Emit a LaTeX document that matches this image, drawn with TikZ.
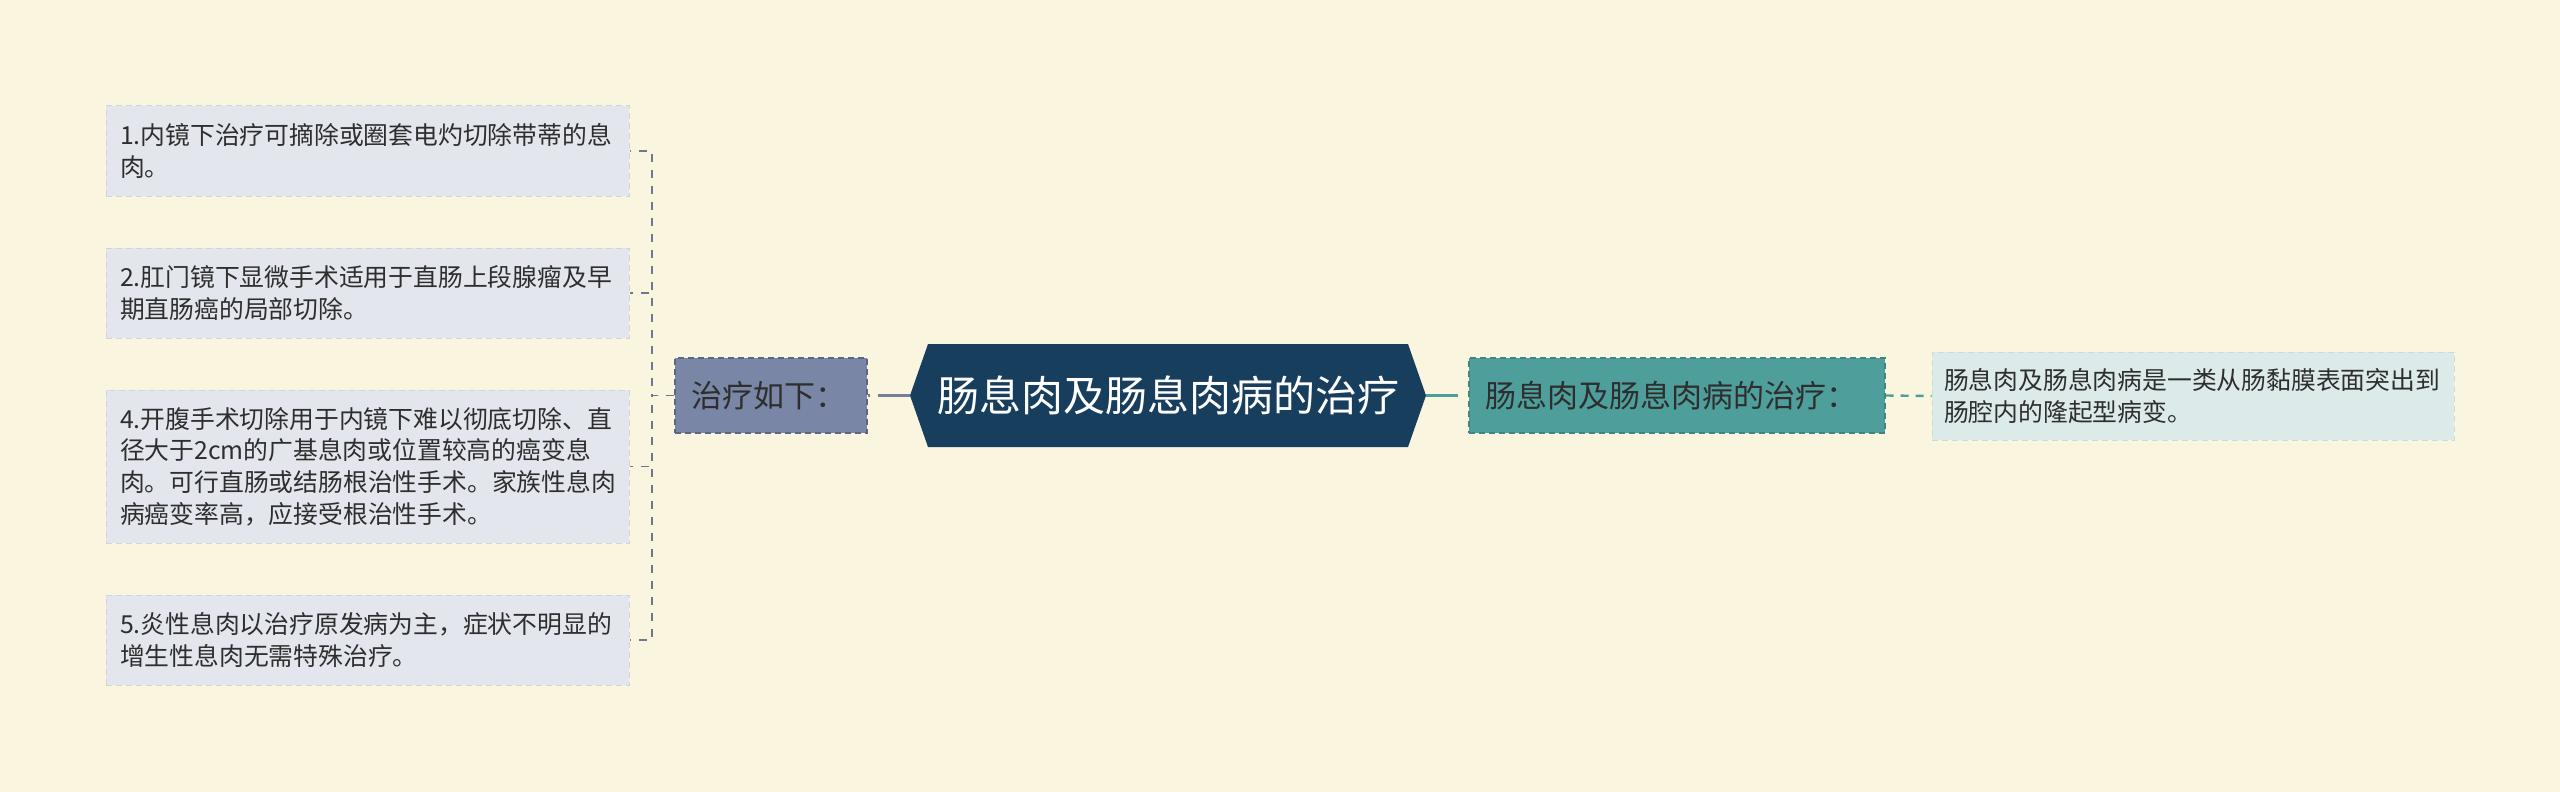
\documentclass[tikz,border=0pt]{standalone}
\usepackage{fontspec}
\setmainfont{Noto Sans CJK SC}
\definecolor{bgc}{HTML}{FAF5DE}
\definecolor{leaffill}{HTML}{E3E6ED}
\definecolor{leafborder}{HTML}{D0D4DE}
\definecolor{tlfill}{HTML}{7A86A6}
\definecolor{tlborder}{HTML}{5B6684}
\definecolor{hexc}{HTML}{183E5E}
\definecolor{tealfill}{HTML}{4E9E9C}
\definecolor{tealborder}{HTML}{3C8684}
\definecolor{rbfill}{HTML}{DCEBE9}
\definecolor{rbborder}{HTML}{C6DDDB}
\definecolor{txt}{HTML}{2E2E2E}
\definecolor{slateline}{HTML}{737E9C}
\definecolor{bracketc}{HTML}{6E7690}
\begin{document}
\begin{tikzpicture}[x=0.5pt,y=-0.5pt,
  leafbox/.style={fill=leaffill, draw=leafborder, line width=0.5pt, dash pattern=on 3pt off 2pt,
    minimum width=261.5pt, inner xsep=7pt, inner ysep=0pt, text width=247.5pt, align=left,
    text=txt, font=\fontsize{12.4}{15.8}\selectfont},
  rbbox/.style={fill=rbfill, draw=rbborder, line width=0.5pt, dash pattern=on 3pt off 2pt,
    minimum width=261pt, minimum height=44pt, inner xsep=6pt, inner ysep=0pt, text width=249pt, align=left,
    text=txt, font=\fontsize{12.4}{16}\selectfont},
  midbox/.style={line width=0.6pt, dash pattern=on 3pt off 2pt, minimum height=37.5pt,
    inner xsep=8pt, inner ysep=0pt, align=left, text=txt, font=\fontsize{15.5}{18}\selectfont},
  hexnode/.style={fill=bgc, minimum width=258pt, minimum height=51.5pt, inner sep=0pt, text=white,
    font=\fontsize{21}{25}\selectfont,
    path picture={\fill[hexc] (path picture bounding box.west)
      -- ([xshift=9pt]path picture bounding box.north west)
      -- ([xshift=-9pt]path picture bounding box.north east)
      -- (path picture bounding box.east)
      -- ([xshift=-9pt]path picture bounding box.south east)
      -- ([xshift=9pt]path picture bounding box.south west) -- cycle;}},
  slateconn/.style={draw=slateline, line width=1.8pt, dash pattern=on 16pt off 4pt},
  tealconn/.style={draw=tealfill, line width=1.8pt, dash pattern=on 16pt off 5pt},
  tealdash/.style={draw=tealfill, line width=1.2pt, dash pattern=on 4pt off 3.5pt},
  bracket/.style={draw=bracketc, line width=0.9pt, dash pattern=on 4pt off 4pt}
]
\useasboundingbox (0,0) rectangle (2560,792);
\fill[bgc] (0,0) rectangle (2560,792);

\node[leafbox, minimum height=45pt] (c1) at (367.5,151) {1.内镜下治疗可摘除或圈套电灼切除带蒂的息\\肉。};
\node[leafbox, minimum height=45pt] (c2) at (367.5,293) {2.肛门镜下显微手术适用于直肠上段腺瘤及早\\期直肠癌的局部切除。};
\node[leafbox, minimum height=76.5pt] (c4) at (367.5,466.5) {4.开腹手术切除用于内镜下难以彻底切除、直\\径大于2cm的广基息肉或位置较高的癌变息\\肉。可行直肠或结肠根治性手术。家族性息肉\\病癌变率高，应接受根治性手术。};
\node[leafbox, minimum height=45pt] (c5) at (367.5,640) {5.炎性息肉以治疗原发病为主，症状不明显的\\增生性息肉无需特殊治疗。};

\node[midbox, fill=tlfill, draw=tlborder, minimum width=96pt, text width=80pt] (tl) at (771,395.5) {治疗如下：};
\node[hexnode] (hex) at (1168,395.5) {肠息肉及肠息肉病的治疗};
\node[midbox, fill=tealfill, draw=tealborder, minimum width=208pt, text width=192pt] (tr) at (1677,395.5) {肠息肉及肠息肉病的治疗：};
\node[rbbox] (rb) at (2193,396) {肠息肉及肠息肉病是一类从肠黏膜表面突出到\\肠腔内的隆起型病变。};

\draw[slateconn] (hex.west) -- (tl.east);
\draw[tealconn] (hex.east) -- (tr.west);
\draw[tealdash] (tr.east) -- (rb.west);

\coordinate (bk) at (652,395.5);
\draw[bracket] (tl.west) -- (bk) |- (c1.east);
\draw[bracket] (tl.west) -- (bk) |- (c2.east);
\draw[bracket] (tl.west) -- (bk) |- (c4.east);
\draw[bracket] (tl.west) -- (bk) |- (c5.east);
\end{tikzpicture}
\end{document}
